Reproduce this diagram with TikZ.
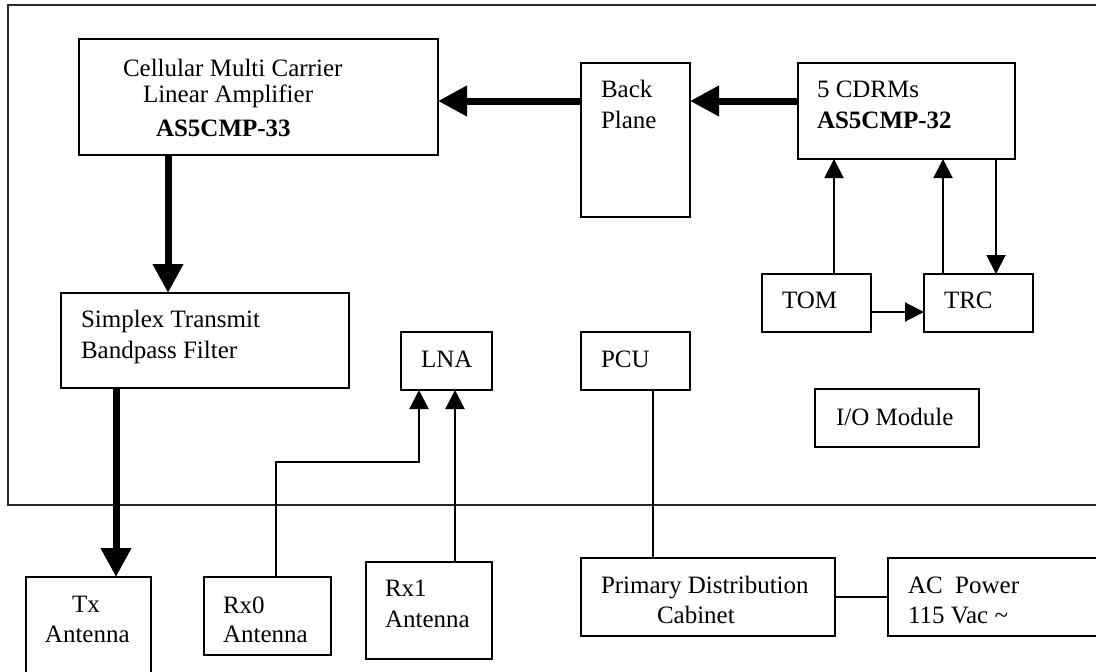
\documentclass[tikz,border=0pt]{standalone}
\usepackage{fontspec}
\setmainfont{Liberation Serif}
\usetikzlibrary{arrows.meta}
\begin{document}
\begin{tikzpicture}[x=1pt,y=-1pt,
  box/.style={draw, line width=2pt, rectangle, inner sep=0pt, outer sep=0pt},
  lbl/.style={anchor=base west, inner sep=0pt, outer sep=0pt, font=\fontsize{25}{30}\selectfont},
  big/.style={line width=7pt, -{Triangle[length=29pt,width=29pt]}},
  wire/.style={line width=2pt, -{Triangle[length=19pt,width=19pt]}},
  plainwire/.style={line width=2pt},
  frame/.style={draw=black!85, line width=2pt}]
\useasboundingbox (0,0) rectangle (1096,672);
\fill[white] (0,0) rectangle (1096,672);
\clip (0,0) rectangle (1096,672);
% outer frame
\draw[frame] (8,5) rectangle (1110,505);
% boxes
\node[box, minimum width=359pt, minimum height=116pt] (amp) at (258.5,97) {};
\node[box, minimum width=109pt, minimum height=154pt] (bp) at (635.5,140) {};
\node[box, minimum width=217pt, minimum height=96pt] (cdrm) at (906.5,111) {};
\node[box, minimum width=109pt, minimum height=58pt] (tom) at (816.5,303) {};
\node[box, minimum width=109pt, minimum height=58pt] (trc) at (978.5,303) {};
\node[box, minimum width=288pt, minimum height=95pt] (simp) at (205,340.5) {};
\node[box, minimum width=91pt, minimum height=58pt] (lna) at (446.5,361) {};
\node[box, minimum width=109pt, minimum height=58pt] (pcu) at (635.5,361) {};
\node[box, minimum width=164pt, minimum height=58pt] (io) at (897,418) {};
\node[box, minimum width=125pt, minimum height=130pt] (tx) at (88.5,642) {};
\node[box, minimum width=127pt, minimum height=78pt] (rx0) at (267.5,616) {};
\node[box, minimum width=126pt, minimum height=97pt] (rx1) at (429,610.5) {};
\node[box, minimum width=254pt, minimum height=78pt] (pdc) at (708,597) {};
\node[box, minimum width=220pt, minimum height=78pt] (ac) at (998,597) {};
% texts
\node[lbl] (t1) at (123,76) {Cellular Multi Carrier};
\node[lbl] (t2) at (143,102.5) {Linear Amplifier};
\node[lbl] (t3) at (156,136.5) {\bfseries AS5CMP-33};
\node[lbl] (t4) at (601,97) {Back};
\node[lbl] (t5) at (601,128) {Plane};
\node[lbl] (t6) at (817,97) {5 CDRMs};
\node[lbl] (t7) at (817,128) {\bfseries AS5CMP-32};
\node[lbl] (t8) at (782,308) {TOM};
\node[lbl] (t9) at (944,308) {TRC};
\node[lbl] (t10) at (81,327) {Simplex Transmit};
\node[lbl] (t11) at (81,358) {Bandpass Filter};
\node[lbl] (t12) at (421,367) {LNA};
\node[lbl] (t13) at (601,367) {PCU};
\node[lbl] (t14) at (836,425) {I/O Module};
\node[lbl] (t15) at (72,612) {Tx};
\node[lbl] (t16) at (45,642) {Antenna};
\node[lbl] (t17) at (223,613) {Rx0};
\node[lbl] (t18) at (223,642) {Antenna};
\node[lbl] (t19) at (385,596) {Rx1};
\node[lbl] (t20) at (385,627) {Antenna};
\node[lbl] (t21) at (601,593) {Primary Distribution};
\node[lbl] (t22) at (657,623) {Cabinet};
\node[lbl] (t23) at (908,593) {AC\ \ Power};
\node[lbl] (t24) at (908,623) {115 Vac \textasciitilde};
% thick connectors
\draw[big] ([yshift=10pt]cdrm.west) -- ([yshift=39pt]bp.east);
\draw[big] ([yshift=39pt]bp.west) -- ([yshift=-4pt]amp.east);
\draw[big] ([xshift=-90.5pt]amp.south) -- ([xshift=-37pt]simp.north);
\draw[big] ([xshift=-89pt]simp.south) -- ([xshift=27.5pt]tx.north);
% thin connectors
\draw[wire] ([xshift=17.5pt]tom.north) -- ([xshift=-72.5pt]cdrm.south);
\draw[wire] ([xshift=-35.5pt]trc.north) -- ([xshift=36.5pt]cdrm.south);
\draw[wire] ([xshift=89.5pt]cdrm.south) -- ([xshift=17.5pt]trc.north);
\draw[wire] ([yshift=-9pt]tom.east) -- ([yshift=-9pt]trc.west);
\draw[wire] ([xshift=8.5pt]rx0.north) -- ++(0,-115) -| ([xshift=-27.5pt]lna.south);
\draw[wire] ([xshift=26pt]rx1.north) -- ([xshift=8.5pt]lna.south);
\draw[plainwire] ([xshift=17.5pt]pcu.south) -- ([xshift=-55pt]pdc.north);
\draw[plainwire] (pdc.east) -- (ac.west);
\end{tikzpicture}
\end{document}
